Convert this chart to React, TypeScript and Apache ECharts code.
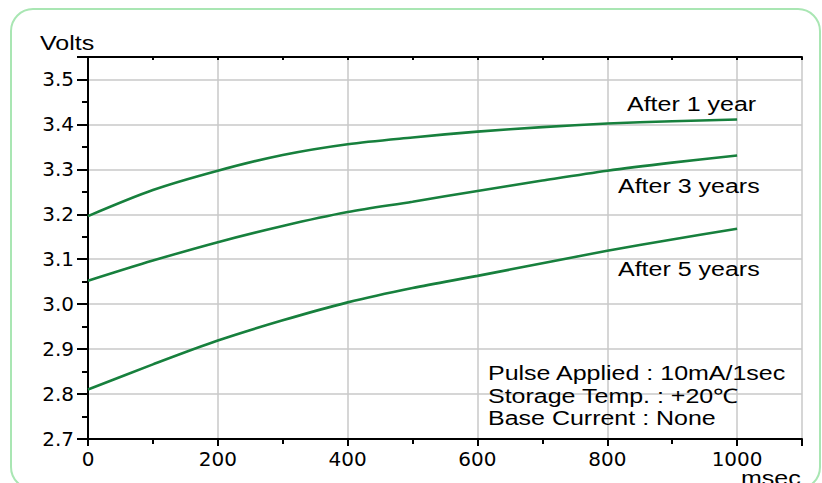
import React, { useEffect, useRef } from "react";
import * as echarts from "echarts";

const xValues = [0, 100, 200, 300, 400, 500, 600, 700, 800, 900, 1000];
const after1Year = [3.196, 3.254, 3.297, 3.332, 3.356, 3.371, 3.384, 3.394, 3.402, 3.407, 3.411];
const after3Years = [3.052, 3.097, 3.138, 3.174, 3.205, 3.228, 3.252, 3.275, 3.297, 3.315, 3.331];
const after5Years = [2.81, 2.866, 2.919, 2.964, 3.004, 3.036, 3.063, 3.091, 3.119, 3.144, 3.168];
const seriesNames = ["After 1 year", "After 3 years", "After 5 years"];
const noteLines = ["Pulse Applied : 10mA/1sec", "Storage Temp. : +20\u2103", "Base Current : None"];

const FONT = "'Liberation Sans', Arial, sans-serif";
const LINE = "#17803d";
const SX = 1.25;

function txt(text: string, x: number, y: number, size = 20) {
  return {
    type: "text",
    x,
    y,
    scaleX: SX,
    style: { text, fill: "#000", font: `${size}px ${FONT}`, textVerticalAlign: "middle", textAlign: "left" },
    z: 10,
  };
}

export default function App() {
  const ref = useRef<HTMLDivElement>(null);
  useEffect(() => {
    if (!ref.current) return;
    const chart = echarts.init(ref.current, null, { renderer: "svg" });
    const pair = (ys: number[]) => xValues.map((x, i) => [x, ys[i]]);
    const axisLine = { show: true, lineStyle: { color: "#000", width: 2 } };
    const labelStyle = { color: "#000", fontSize: 20, fontFamily: "'DejaVu Sans', sans-serif" };
    chart.setOption({
      animation: false,
      backgroundColor: "#fff",
      grid: { left: 88, right: 20, top: 57, bottom: 44 },
      xAxis: [
        {
          type: "value",
          min: 0,
          max: 1100,
          interval: 200,
          position: "bottom",
          axisLine,
          axisTick: { show: true, length: 7, lineStyle: { color: "#000", width: 2 } },
          minorTick: { show: true, splitNumber: 2, length: 5, lineStyle: { color: "#000", width: 2 } },
          axisLabel: { ...labelStyle, margin: 10, showMaxLabel: false, formatter: (v: number) => String(v) },
          splitLine: { show: true, lineStyle: { color: "#c8c8c8", width: 1.5 } },
        },
        {
          type: "value",
          min: 0,
          max: 1100,
          interval: 100,
          position: "top",
          axisLine,
          axisTick: { show: true, inside: true, length: 3, lineStyle: { color: "#000", width: 2 } },
          axisLabel: { show: false },
          splitLine: { show: false },
        },
      ],
      yAxis: [
        {
          type: "value",
          min: 2.7,
          max: 3.55,
          interval: 0.1,
          position: "left",
          axisLine,
          axisTick: { show: true, length: 11, lineStyle: { color: "#000", width: 2 } },
          minorTick: { show: true, splitNumber: 2, length: 6, lineStyle: { color: "#000", width: 2 } },
          axisLabel: {
            ...labelStyle,
            margin: 14,
            showMaxLabel: false,
            formatter: (v: number) => v.toFixed(1),
          },
          splitLine: { show: true, lineStyle: { color: "#c8c8c8", width: 1.5 } },
        },
        {
          type: "value",
          min: 2.7,
          max: 3.55,
          interval: 0.05,
          position: "right",
          axisLine,
          axisTick: { show: true, inside: true, length: 4, lineStyle: { color: "#000", width: 2 } },
          axisLabel: { show: false },
          splitLine: { show: false },
        },
      ],
      series: [after1Year, after3Years, after5Years].map((ys, i) => ({
        name: seriesNames[i],
        type: "line",
        xAxisIndex: 0,
        yAxisIndex: 0,
        data: pair(ys),
        smooth: 0.3,
        showSymbol: false,
        lineStyle: { color: LINE, width: 2.6 },
        z: 5,
      })),
      graphic: [
        {
          type: "rect",
          shape: { x: 11, y: 9, width: 809, height: 480, r: 22 },
          style: { fill: "none", stroke: "#a9e6b3", lineWidth: 2 },
          z: 0,
          silent: true,
        },
        txt("Volts", 40, 43),
        txt("msec", 741, 478),
        txt(seriesNames[0], 627, 104),
        txt(seriesNames[1], 618, 186),
        txt(seriesNames[2], 618, 269),
        txt(noteLines[0], 488, 373),
        txt(noteLines[1], 488, 396),
        txt(noteLines[2], 488, 418),
      ],
    });
    return () => chart.dispose();
  }, []);
  return <div ref={ref} style={{ position: "fixed", left: 0, top: 0, width: 822, height: 483 }} />;
}
